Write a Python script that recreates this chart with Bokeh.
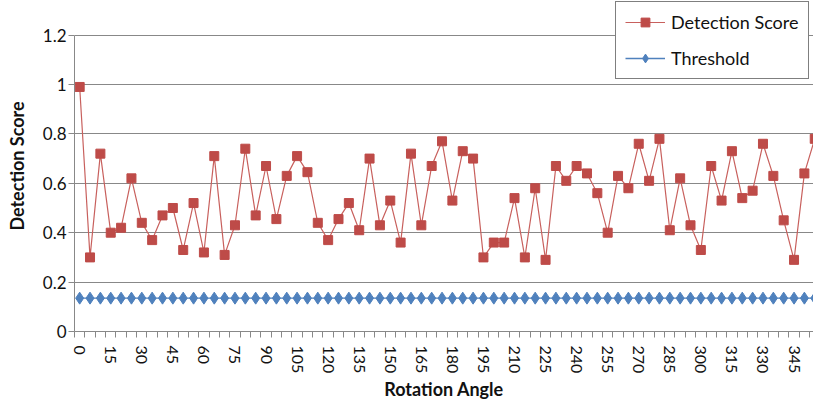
import math
from bokeh.plotting import figure
from bokeh.models import Range1d, FixedTicker, CustomJSTickFormatter, Legend, LegendItem
from bokeh.embed import file_html
from bokeh.resources import INLINE

angles = list(range(0, 360, 5))
detection_score = [
    0.99, 0.30, 0.72, 0.40, 0.42, 0.62, 0.44, 0.37, 0.47, 0.50,
    0.33, 0.52, 0.32, 0.71, 0.31, 0.43, 0.74, 0.47, 0.67, 0.455,
    0.63, 0.71, 0.645, 0.44, 0.37, 0.455, 0.52, 0.41, 0.70, 0.43,
    0.53, 0.36, 0.72, 0.43, 0.67, 0.77, 0.53, 0.73, 0.70, 0.30,
    0.36, 0.36, 0.54, 0.30, 0.58, 0.29, 0.67, 0.61, 0.67, 0.64,
    0.56, 0.40, 0.63, 0.58, 0.76, 0.61, 0.78, 0.41, 0.62, 0.43,
    0.33, 0.67, 0.53, 0.73, 0.54, 0.57, 0.76, 0.63, 0.45, 0.29,
    0.64, 0.78,
]
threshold = [0.135] * len(angles)
x_tick_labels = list(range(0, 360, 15))
y_ticks = [0, 0.2, 0.4, 0.6, 0.8, 1.0, 1.2]

FONT = "Lato"
RED_LINE = "#C8605D"
RED = "#BE4B48"
BLUE = "#4F81BD"
GRAY = "#888888"
TXT = "#111111"

p = figure(width=813, height=403, output_backend="svg", toolbar_location=None,
           x_range=Range1d(-2.5, 354.4), y_range=Range1d(0, 1.34),
           min_border_left=74, min_border_right=0, min_border_top=0,
           min_border_bottom=72)
p.outline_line_color = None
p.background_fill_color = "white"
p.border_fill_color = "white"

r1 = p.line(angles, detection_score, line_color=RED_LINE, line_width=1.2)
s1 = p.scatter(angles, detection_score, marker="square", size=9,
               fill_color=RED, line_color=RED)
r2 = p.line(angles, threshold, line_color=BLUE, line_width=1.3)
s2 = p.scatter(angles, threshold, marker="diamond", size=12,
               fill_color=BLUE, line_color=BLUE)

# axes
xa = p.xaxis[0]
xa.ticker = FixedTicker(ticks=x_tick_labels,
                        minor_ticks=[a - 2.5 for a in angles] + [357.5])
xa.major_label_orientation = -math.pi / 2
xa.major_tick_in = 0
xa.major_tick_out = 0
xa.minor_tick_in = 0
xa.minor_tick_out = 6
xa.minor_tick_line_color = GRAY
xa.axis_line_color = GRAY
xa.major_label_text_font = FONT
xa.major_label_text_font_size = "16px"
xa.major_label_text_color = TXT
xa.major_label_standoff = 8
xa.axis_label = "Rotation Angle"
xa.axis_label_text_font = FONT
xa.axis_label_text_font_size = "18px"
xa.axis_label_text_font_style = "bold"
xa.axis_label_text_color = TXT
xa.axis_label_standoff = 2

ya = p.yaxis[0]
ya.ticker = FixedTicker(ticks=y_ticks, minor_ticks=[])
ya.formatter = CustomJSTickFormatter(code="return String(parseFloat(tick.toFixed(2)));")
ya.bounds = (0, 1.2)
ya.major_tick_in = 0
ya.major_tick_out = 6
ya.major_tick_line_color = GRAY
ya.axis_line_color = GRAY
ya.major_label_text_font = FONT
ya.major_label_text_font_size = "17px"
ya.major_label_text_color = TXT
ya.major_label_standoff = 2
ya.axis_label = "Detection Score"
ya.axis_label_text_font = FONT
ya.axis_label_text_font_size = "18px"
ya.axis_label_text_font_style = "bold"
ya.axis_label_text_color = TXT
ya.axis_label_standoff = 12

p.xgrid.grid_line_color = None
p.ygrid.ticker = FixedTicker(ticks=y_ticks)
p.ygrid.grid_line_color = GRAY
p.ygrid.grid_line_width = 1

legend = Legend(items=[LegendItem(label="Detection Score", renderers=[r1, s1]),
                       LegendItem(label="Threshold", renderers=[r2, s2])],
                location=(541, 252))
legend.border_line_color = "black"
legend.border_line_width = 1.5
legend.background_fill_color = "white"
legend.background_fill_alpha = 1.0
legend.label_text_font = FONT
legend.label_text_font_size = "18px"
legend.label_text_color = TXT
legend.glyph_width = 40
legend.glyph_height = 22
legend.label_height = 22
legend.label_standoff = 6
legend.padding = 9
legend.spacing = 14
legend.margin = 0
p.add_layout(legend, "center")

open("out.html", "w").write(file_html(p, INLINE))
